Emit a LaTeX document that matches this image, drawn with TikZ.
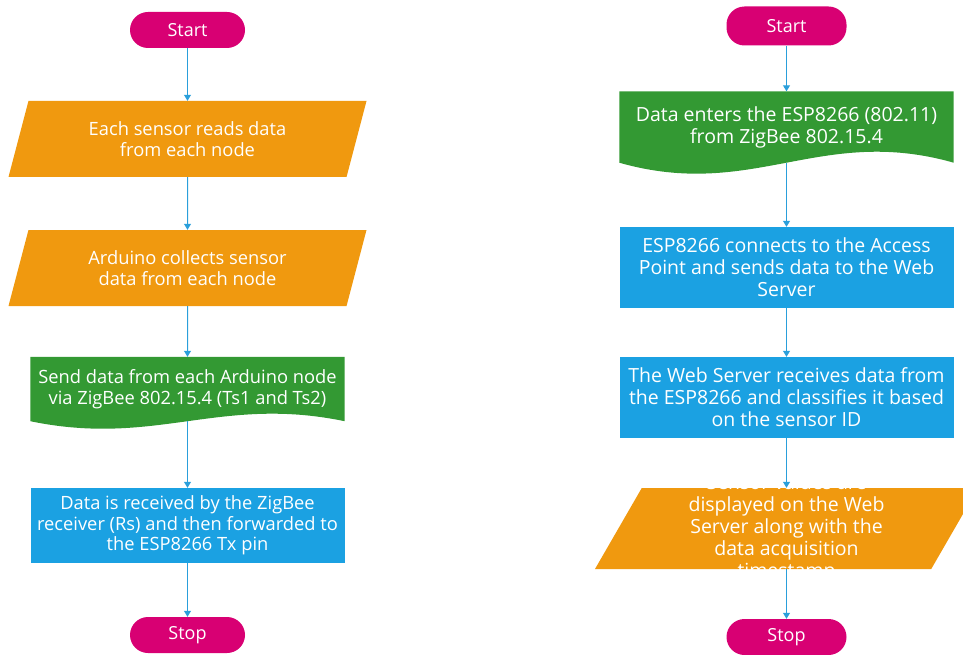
\documentclass[tikz,border=0pt]{standalone}
\usepackage{fontspec}
\setmainfont{Open Sans}
\usetikzlibrary{arrows.meta,shapes.geometric,backgrounds}
\definecolor{termpink}{HTML}{D80073}
\definecolor{ioorange}{HTML}{F0990F}
\definecolor{docgreen}{HTML}{339933}
\definecolor{procblue}{HTML}{1BA1E2}
\definecolor{linkblue}{HTML}{2A9FDB}
\tikzset{
  base/.style={text=white, align=center, inner sep=0pt, font=\fontsize{18.3}{20.5}\selectfont},
  wide/.style={font=\fontsize{19.5}{22}\selectfont},
  terminal/.style={base, font=\fontsize{18}{20}\selectfont, fill=termpink, minimum width=115,
    minimum height=36, rounded corners=18},
  inout/.style={base, fill=ioorange, trapezium, trapezium left angle=60, trapezium right angle=120,
    trapezium stretches body=true, minimum width=358, minimum height=76},
  process/.style={base, fill=procblue},
  docu/.style={base},
  link/.style={linkblue, line width=1pt, -{Triangle[width=7pt,length=6pt]}}
}
% document shape: node, width, wave depth
\newcommand\docshape[3]{%
  \fill[docgreen] (#1.south east) -- (#1.north east) -- (#1.north west) -- (#1.south west)
    .. controls +(0.4*#2,#3) and +(-0.4*#2,-#3) .. (#1.south east) -- cycle;}
\begin{document}
\begin{tikzpicture}[x=1pt, y=-1pt, line join=round]
  \clip (0,0) rectangle (963,655);
  \useasboundingbox (0,0) rectangle (963,655);
  % left chart
  \node[terminal] (s1) at (187.5,30) {Start};
  \node[inout] (p1) at (187.5,139) {Each sensor reads data\\from each node};
  \node[inout] (p2) at (187.5,268) {Arduino collects sensor\\data from each node};
  \node[docu, minimum width=314, minimum height=64] (d1) at (187.5,389)
    {Send data from each Arduino node\\via ZigBee 802.15.4 (Ts1 and Ts2)};
  \node[process, minimum width=314, minimum height=75] (b1) at (187.5,525.5)
    {Data is received by the ZigBee\\receiver (Rs) and then forwarded to\\the ESP8266 Tx pin};
  \node[terminal] (e1) at (187.5,635) {Stop};
  % right chart
  \node[terminal, minimum width=120, minimum height=39] (s2) at (786.5,26) {Start};
  \node[docu, wide, minimum width=334, minimum height=71] (d2) at (786.5,127)
    {Data enters the ESP8266 (802.11)\\from ZigBee 802.15.4};
  \node[process, wide, minimum width=334, minimum height=81] (b2) at (786.5,267.5)
    {ESP8266 connects to the Access\\Point and sends data to the Web\\Server};
  \node[process, wide, minimum width=334, minimum height=81] (b3) at (786.5,397.5)
    {The Web Server receives data from\\the ESP8266 and classifies it based\\on the sensor ID};
  \node[inout, minimum width=383, minimum height=81] (p3) at (786.5,528.5) {\rule{0pt}{81pt}};
  \node[base, wide] (t3) at (p3) 
    {Sensor values are\\displayed on the Web\\Server along with the\\data acquisition\\timestamp};
  \node[terminal, minimum width=120] (e2) at (786.5,637) {Stop};
  \begin{scope}[on background layer]
    \docshape{d1}{314}{26}
    \docshape{d2}{334}{38}
  \end{scope}
  \draw[link] (s1) -- (p1);
  \draw[link] (p1) -- (p2);
  \draw[link] (p2) -- (d1);
  \draw[link] (d1) -- (b1);
  \draw[link] (b1) -- (e1);
  \draw[link] (s2) -- (d2);
  \draw[link] (d2) -- (b2);
  \draw[link] (b2) -- (b3);
  \draw[link] (b3) -- (p3);
  \draw[link] (p3) -- (e2);
\end{tikzpicture}
\end{document}
